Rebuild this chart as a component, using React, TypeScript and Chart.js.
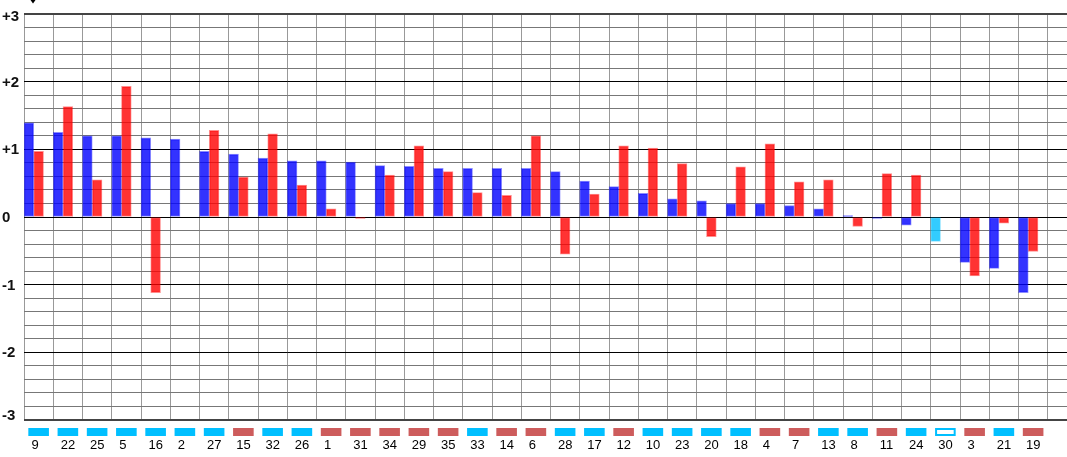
import React, { useEffect, useRef } from 'react';
import { Chart, registerables } from 'chart.js';

Chart.register(...registerables);

const categories = ['9', '22', '25', '5', '16', '2', '27', '15', '32', '26', '1', '31', '34', '29', '35', '33', '14', '6', '28', '17', '12', '10', '23', '20', '18', '4', '7', '13', '8', '11', '24', '30', '3', '21', '19'];
const blueValues = [1.39, 1.25, 1.2, 1.2, 1.17, 1.15, 0.97, 0.93, 0.87, 0.83, 0.83, 0.81, 0.76, 0.75, 0.72, 0.72, 0.72, 0.72, 0.67, 0.53, 0.45, 0.35, 0.27, 0.24, 0.2, 0.2, 0.17, 0.12, 0.02, -0.02, -0.12, -0.36, -0.67, -0.76, -1.12];
const redValues = [0.97, 1.63, 0.55, 1.93, -1.12, null, 1.28, 0.59, 1.23, 0.47, 0.12, -0.02, 0.62, 1.05, 0.67, 0.36, 0.32, 1.2, -0.55, 0.34, 1.05, 1.02, 0.79, -0.29, 0.74, 1.08, 0.52, 0.55, -0.14, 0.64, 0.62, null, -0.87, -0.09, -0.51];
// c = cyan marker, r = red marker, o = outlined cyan marker
const markerKinds = ['c', 'c', 'c', 'c', 'c', 'c', 'c', 'r', 'c', 'c', 'r', 'r', 'r', 'r', 'r', 'c', 'r', 'r', 'c', 'c', 'r', 'c', 'c', 'c', 'c', 'r', 'r', 'c', 'c', 'r', 'c', 'o', 'r', 'c', 'r'];
const yTickValues = [-3, -2, -1, 0, 1, 2, 3];
const yTickLabels = ['-3', '-2', '-1', '0', '+1', '+2', '+3'];

const CYAN = '#00BFFF';
const INDIAN_RED = '#CD5C5C';

const overlay = {
  id: 'overlay',
  afterDraw(chart: any) {
    const ctx = chart.ctx as CanvasRenderingContext2D;
    const xs = chart.scales.x;
    const ys = chart.scales.y;
    const area = chart.chartArea;
    ctx.save();
    // small arrow at the top
    ctx.fillStyle = '#000';
    ctx.beginPath();
    ctx.moveTo(30.5, 0);
    ctx.lineTo(35.5, 0);
    ctx.lineTo(33, 3.5);
    ctx.closePath();
    ctx.fill();

    // y labels
    ctx.font = 'bold 15px "Liberation Sans", Arial, sans-serif';
    ctx.fillStyle = '#111';
    ctx.textAlign = 'left';
    ctx.textBaseline = 'middle';
    yTickValues.forEach((v, i) => {
      let py = ys.getPixelForValue(v) + 1;
      py = Math.max(area.top + 2.5, Math.min(area.bottom - 4.5, py));
      ctx.fillText(yTickLabels[i], 2, py);
    });

    // category markers & labels
    ctx.font = '13px "Liberation Sans", Arial, sans-serif';
    ctx.textBaseline = 'alphabetic';
    const digitW = ctx.measureText('00').width;
    categories.forEach((c, i) => {
      const cx = xs.getPixelForValue(i);
      const kind = markerKinds[i];
      const mx = cx - 10.3;
      const my = 428;
      if (kind === 'o') {
        ctx.fillStyle = '#fff';
        ctx.fillRect(mx, my, 20.6, 8);
        ctx.strokeStyle = CYAN;
        ctx.lineWidth = 2;
        ctx.strokeRect(mx + 1, my + 1, 18.6, 6);
      } else {
        ctx.fillStyle = kind === 'r' ? INDIAN_RED : CYAN;
        ctx.fillRect(mx, my, 20.6, 8);
      }
      ctx.fillStyle = '#000';
      ctx.textAlign = 'left';
      ctx.fillText(c, cx - digitW / 2, 448.5);
    });
    ctx.restore();
  },
};

export default function App() {
  const ref = useRef<HTMLCanvasElement | null>(null);

  useEffect(() => {
    document.body.style.margin = '0';
    const canvas = ref.current;
    if (!canvas) return;
    const labels = [...categories, ''];
    const blueColors = markerKinds.map((k) => (k === 'o' ? 'rgba(0,191,255,0.8)' : 'rgba(0,0,255,0.8)'));
    const blueBorders = markerKinds.map((k) => (k === 'o' ? 'rgba(0,191,255,0.45)' : 'rgba(0,0,255,0.45)'));
    const chart = new Chart(canvas, {
      type: 'bar',
      data: {
        labels,
        datasets: [
          {
            label: 'blue',
            data: blueValues,
            backgroundColor: blueColors,
            borderColor: blueBorders,
            borderWidth: 1,
            borderSkipped: false,
          },
          {
            label: 'red',
            data: redValues,
            backgroundColor: 'rgba(255,0,0,0.8)',
            borderColor: 'rgba(255,0,0,0.45)',
            borderWidth: 1,
            borderSkipped: false,
          },
          {
            label: 'spacer',
            data: labels.map(() => null),
            backgroundColor: 'rgba(0,0,0,0)',
          },
        ],
      },
      options: {
        responsive: false,
        animation: false,
        events: [],
        layout: { padding: { top: 14, left: 2, right: 0, bottom: 0 } },
        datasets: { bar: { categoryPercentage: 1, barPercentage: 1 } },
        plugins: {
          legend: { display: false },
          tooltip: { enabled: false },
          title: { display: false },
        },
        scales: {
          x: {
            type: 'category',
            offset: true,
            grid: {
              offset: true,
              color: '#999',
              lineWidth: 1,
              drawTicks: false,
            },
            border: { display: false },
            ticks: { display: false },
            afterFit: (s: any) => {
              s.height = 37;
            },
          },
          y: {
            type: 'linear',
            min: -3,
            max: 3,
            ticks: {
              display: false,
              stepSize: 0.2,
              autoSkip: false,
              maxTicksLimit: 100,
              callback: () => '',
            },
            grid: {
              drawTicks: false,
              color: (c: any) => {
                const v = c.tick ? c.tick.value : 0;
                const r = Math.round(v);
                if (Math.abs(v - r) < 1e-6) {
                  if (Math.abs(r) === 3) return '#444';
                  return '#000';
                }
                return '#777';
              },
              lineWidth: (c: any) => {
                const v = c.tick ? c.tick.value : 0;
                if (Math.abs(Math.abs(v) - 3) < 1e-6) return 2;
                return 1;
              },
            },
            border: { display: false },
            afterFit: (s: any) => {
              s.width = 22;
            },
          },
        },
      },
      plugins: [overlay],
    });
    return () => chart.destroy();
  }, []);

  return (
    <div style={{ width: 1067, height: 457, overflow: 'hidden', background: '#fff' }}>
      <canvas ref={ref} width={1077} height={457} style={{ display: 'block', width: 1077, height: 457 }} />
    </div>
  );
}
